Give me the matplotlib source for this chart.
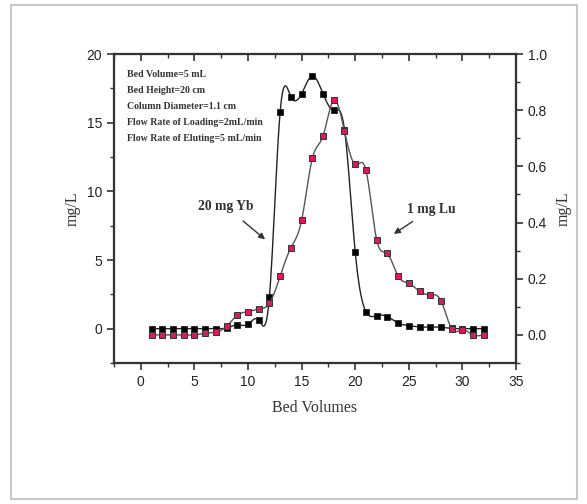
import numpy as np
import matplotlib
matplotlib.use('Agg')
import matplotlib.pyplot as plt
from matplotlib.patches import Rectangle
from matplotlib.ticker import MultipleLocator

# --- data ---
bed_volumes = list(range(1, 33))
yb_mg_l = [0, 0, 0, 0, 0, 0, 0, 0.05, 0.27, 0.32, 0.63, 2.34, 15.8, 16.9, 17.1, 18.4,
           17.1, 15.9, 14.5, 5.6, 1.24, 0.95, 0.88, 0.41, 0.22, 0.12, 0.12, 0.1,
           0.02, 0.0, 0.0, 0.0]
lu_mg_l = [0, 0, 0, 0, 0, 0.006, 0.01, 0.03, 0.07, 0.083, 0.092, 0.113, 0.209, 0.31,
           0.408, 0.628, 0.708, 0.836, 0.725, 0.607, 0.587, 0.339, 0.29, 0.209, 0.184,
           0.155, 0.143, 0.122, 0.022, 0.018, 0.0, 0.0]
info_lines = ["Bed Volume=5 mL", "Bed Height=20 cm", "Column Diameter=1.1 cm",
              "Flow Rate of Loading=2mL/min", "Flow Rate of Eluting=5 mL/min"]


def natural_spline(x, y, n=20):
    # plain natural cubic spline, only used to draw the smooth connecting line
    x = np.asarray(x, float); y = np.asarray(y, float)
    h = np.diff(x)
    m = len(x)
    A = np.zeros((m, m)); b = np.zeros(m)
    A[0, 0] = A[-1, -1] = 1
    for i in range(1, m - 1):
        A[i, i - 1] = h[i - 1]
        A[i, i] = 2 * (h[i - 1] + h[i])
        A[i, i + 1] = h[i]
        b[i] = 6 * ((y[i + 1] - y[i]) / h[i] - (y[i] - y[i - 1]) / h[i - 1])
    M = np.linalg.solve(A, b)
    xs, ys = [], []
    for i in range(m - 1):
        t = np.linspace(x[i], x[i + 1], n, endpoint=False)
        a = x[i + 1] - t; c = t - x[i]
        s = (M[i] * a**3 + M[i + 1] * c**3) / (6 * h[i]) \
            + (y[i] / h[i] - M[i] * h[i] / 6) * a + (y[i + 1] / h[i] - M[i + 1] * h[i] / 6) * c
        xs.append(t); ys.append(s)
    xs.append([x[-1]]); ys.append([y[-1]])
    return np.concatenate(xs), np.concatenate(ys)


fig = plt.figure(figsize=(5.87, 5.04), dpi=100)
fig.patch.set_facecolor('white')
# light screenshot frame
fig.patches.append(Rectangle((11 / 587, 5 / 504), 566 / 587, 494 / 504, transform=fig.transFigure,
                             fill=False, edgecolor='#c8c8c8', linewidth=1.5))

ax = fig.add_axes([114 / 587, 1 - 363 / 504, 402 / 587, 309 / 504])
ax2 = ax.twinx()
ax3 = ax.twiny()  # only for the inward ticks along the top

sx, sy = natural_spline(bed_volumes, yb_mg_l)
ax.plot(sx, sy, color='#222222', lw=1.0, zorder=3)
ax.plot(bed_volumes, yb_mg_l, 's', ms=4.5, mfc='black', mec='#222222', mew=0.6, zorder=4)

lx, ly = natural_spline(bed_volumes, lu_mg_l)
ax2.plot(lx, ly, color='#555555', lw=1.0, zorder=3)
ax2.plot(bed_volumes, lu_mg_l, 's', ms=4.5, mfc='#d81b5a', mec='#333333', mew=0.7, zorder=4)

ax.set_xlim(-2.5, 35)
ax3.set_xlim(-2.5, 35)
ax.set_ylim(-2.5, 20)
ax2.set_ylim(-0.1, 1.0)

sans = 'Liberation Sans'
serif = 'Liberation Serif'

for xa in (ax.xaxis, ax3.xaxis):
    xa.set_major_locator(MultipleLocator(5))
    xa.set_minor_locator(MultipleLocator(2.5))
ax.yaxis.set_major_locator(MultipleLocator(5))
ax.yaxis.set_minor_locator(MultipleLocator(2.5))
ax2.yaxis.set_major_locator(MultipleLocator(0.2))
ax2.yaxis.set_minor_locator(MultipleLocator(0.1))
ax2.set_yticks([0.0, 0.2, 0.4, 0.6, 0.8, 1.0])
ax2.set_yticklabels(['0.0', '0.2', '0.4', '0.6', '0.8', '1.0'])

ax.tick_params(axis='x', which='both', direction='out', top=False, colors='#333333')
ax.tick_params(axis='x', which='major', length=5, width=1.2, labelsize=10)
ax.tick_params(axis='x', which='minor', length=3, width=1.0)
ax3.tick_params(axis='x', which='both', direction='in', top=True, bottom=False,
                labeltop=False, labelbottom=False, colors='#333333')
ax3.tick_params(axis='x', which='major', length=5, width=1.2)
ax3.tick_params(axis='x', which='minor', length=3, width=1.0)

ax.tick_params(axis='y', which='major', direction='out', length=5, width=1.2, labelsize=10, colors='#333333')
ax.tick_params(axis='y', which='minor', direction='out', length=3, width=1.0, colors='#333333')
ax2.tick_params(axis='y', which='major', direction='out', length=5, width=1.2, labelsize=10, colors='#333333')
ax2.tick_params(axis='y', which='minor', direction='out', length=3, width=1.0, colors='#333333')
for lab in ax.get_xticklabels() + ax.get_yticklabels() + ax2.get_yticklabels():
    lab.set_fontfamily(sans)
    lab.set_color('#222222')

for a in (ax, ax2, ax3):
    for sp in a.spines.values():
        sp.set_linewidth(1.5)
        sp.set_color('#333333')

ax.set_xlabel('Bed Volumes', fontfamily=serif, fontsize=11.5, color='#333333', labelpad=8)
ax.set_ylabel('mg/L', fontfamily=serif, fontsize=11.5, color='#333333', labelpad=4)
ax2.set_ylabel('mg/L', fontfamily=serif, fontsize=11.5, color='#333333', labelpad=6)

for i, line in enumerate(info_lines):
    ax.text(-1.3, 18.5 - i * 1.17, line, fontfamily=serif, fontsize=7.1, fontweight='bold',
            color='#333333', va='center', ha='left')

ax.annotate('20 mg Yb', xy=(11.6, 6.5), xytext=(7.9, 8.9), fontfamily=serif, fontsize=9.8,
            fontweight='bold', color='#333333', ha='center', va='center',
            arrowprops=dict(arrowstyle='-|>', color='#333333', lw=1.0, shrinkA=6, shrinkB=0,
                            mutation_scale=9))
ax.annotate('1 mg Lu', xy=(23.6, 6.9), xytext=(27.1, 8.7), fontfamily=serif, fontsize=9.8,
            fontweight='bold', color='#333333', ha='center', va='center',
            arrowprops=dict(arrowstyle='-|>', color='#333333', lw=1.0, shrinkA=4, shrinkB=0,
                            mutation_scale=9))

fig.savefig('out.png', dpi=100)
